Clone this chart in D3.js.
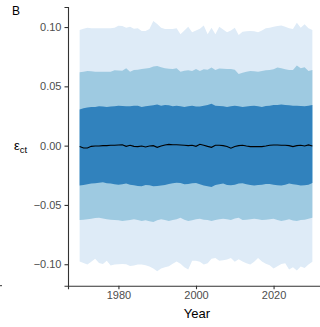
<!DOCTYPE html>
<html><head><meta charset="utf-8">
<script src="https://cdn.jsdelivr.net/npm/d3@7"></script>
<style>html,body{margin:0;padding:0;background:#fff;}svg{display:block;font-family:"Liberation Sans",Arial,sans-serif;}</style>
</head><body><svg id="c" width="320" height="327"></svg>
<script>
const years = [1970,1971,1972,1973,1974,1975,1976,1977,1978,1979,1980,1981,1982,1983,1984,1985,1986,1987,1988,1989,1990,1991,1992,1993,1994,1995,1996,1997,1998,1999,2000,2001,2002,2003,2004,2005,2006,2007,2008,2009,2010,2011,2012,2013,2014,2015,2016,2017,2018,2019,2020,2021,2022,2023,2024,2025,2026,2027,2028,2029,2030];
const upper95 = [0.0975,0.0985,0.0995,0.099,0.0989,0.0989,0.099,0.099,0.099,0.0995,0.101,0.1008,0.0995,0.1003,0.0985,0.099,0.0967,0.0967,0.0984,0.1051,0.1025,0.0995,0.0984,0.0984,0.0984,0.099,0.0939,0.097,0.1003,0.0956,0.097,0.0985,0.1012,0.0939,0.0995,0.0939,0.1003,0.098,0.0956,0.097,0.0995,0.0933,0.096,0.0965,0.0967,0.0965,0.0956,0.097,0.0989,0.0995,0.1003,0.1008,0.1012,0.1003,0.099,0.0984,0.1037,0.0995,0.1023,0.0989,0.0975];
const lower95 = [-0.0976,-0.0989,-0.1003,-0.098,-0.0953,-0.099,-0.0998,-0.097,-0.101,-0.1003,-0.1,-0.0998,-0.1,-0.1015,-0.101,-0.1003,-0.1003,-0.1009,-0.102,-0.1037,-0.1059,-0.1037,-0.1026,-0.1018,-0.0995,-0.0976,-0.0995,-0.1026,-0.1045,-0.097,-0.097,-0.098,-0.1003,-0.0992,-0.0953,-0.0947,-0.097,-0.0967,-0.0961,-0.0947,-0.098,-0.0958,-0.0976,-0.0992,-0.1003,-0.098,-0.0947,-0.0976,-0.0995,-0.1009,-0.1037,-0.1018,-0.0998,-0.0992,-0.1045,-0.1026,-0.1053,-0.102,-0.1031,-0.1003,-0.098];
const upper80 = [0.0618,0.0624,0.063,0.0627,0.0624,0.0624,0.0624,0.0624,0.0624,0.0635,0.0634,0.0632,0.0652,0.0624,0.0638,0.064,0.0647,0.065,0.0655,0.0668,0.0672,0.0662,0.0652,0.0649,0.0647,0.0652,0.0624,0.0632,0.0636,0.063,0.0647,0.063,0.0645,0.064,0.0658,0.0638,0.065,0.0648,0.0647,0.0647,0.064,0.0605,0.0615,0.0624,0.063,0.0627,0.0624,0.063,0.0635,0.0638,0.0645,0.0658,0.0652,0.0645,0.0638,0.0638,0.0675,0.0652,0.0662,0.063,0.0638];
const lower80 = [-0.0627,-0.0624,-0.062,-0.0616,-0.061,-0.0607,-0.0615,-0.0621,-0.0624,-0.0627,-0.063,-0.0635,-0.0632,-0.0627,-0.0621,-0.0627,-0.0635,-0.063,-0.0638,-0.0644,-0.063,-0.0621,-0.0627,-0.0635,-0.0627,-0.062,-0.0607,-0.0624,-0.0635,-0.063,-0.0621,-0.0616,-0.0624,-0.0627,-0.0635,-0.0627,-0.0621,-0.0616,-0.0621,-0.0627,-0.0615,-0.0607,-0.0627,-0.0624,-0.0621,-0.0616,-0.0621,-0.0627,-0.0624,-0.0621,-0.0616,-0.0627,-0.0635,-0.063,-0.0621,-0.0632,-0.0635,-0.0627,-0.0624,-0.0616,-0.0607];
const upper50 = [0.0304,0.0315,0.0321,0.0326,0.0326,0.0332,0.0329,0.0326,0.0329,0.0332,0.0337,0.0335,0.0332,0.0332,0.0337,0.0337,0.0326,0.0332,0.0337,0.034,0.0346,0.0337,0.0343,0.034,0.0332,0.0337,0.0332,0.0326,0.0332,0.0337,0.0329,0.0329,0.0337,0.0343,0.0354,0.0337,0.0335,0.0332,0.0326,0.0332,0.0337,0.0332,0.0326,0.0329,0.0335,0.0337,0.0332,0.0326,0.0335,0.0337,0.0343,0.0343,0.0346,0.0343,0.034,0.0337,0.0337,0.0335,0.0332,0.0337,0.0343];
const lower50 = [-0.0337,-0.0332,-0.0326,-0.032,-0.0318,-0.0312,-0.0309,-0.0318,-0.032,-0.0326,-0.0329,-0.0326,-0.032,-0.0329,-0.0335,-0.034,-0.0343,-0.0332,-0.0335,-0.0343,-0.034,-0.0337,-0.0332,-0.0323,-0.0318,-0.0312,-0.0315,-0.0326,-0.0323,-0.0318,-0.0315,-0.0326,-0.0337,-0.0343,-0.0348,-0.0332,-0.0326,-0.032,-0.0332,-0.0335,-0.0329,-0.032,-0.0318,-0.0326,-0.0332,-0.0337,-0.0332,-0.0329,-0.0323,-0.0323,-0.0329,-0.0335,-0.0337,-0.0329,-0.032,-0.0326,-0.0329,-0.0337,-0.0335,-0.0329,-0.0315];
const median = [-0.0008,-0.002,-0.002,-0.0006,-0.0003,-0.0003,0,0,0.0003,0.0003,0.0006,0.0008,-0.0006,0.0003,-0.0006,-0.0008,-0.0003,-0.0011,-0.0003,0,-0.0014,-0.0003,0.0006,0.0011,0.0008,0.0008,0.0006,0.0003,0,0.0003,-0.0006,0.0011,0.0003,-0.0006,-0.0014,0.0003,0.0003,0,-0.0008,-0.0022,-0.0008,0,0.0003,-0.0003,-0.0008,-0.0008,-0.0008,-0.0008,-0.0003,0.0003,0.0006,0.0006,0.0003,0.0003,0,-0.0008,0,0.0003,-0.0003,0.0006,-0.0003];
const yTicks = [-0.10,-0.05,0.00,0.05,0.10];
const xTicks = [1980,2000,2020];

const svg = d3.select("#c");
const x = d3.scaleLinear().domain([1967, 2033]).range([68, 324]);
const y = d3.scaleLinear().domain([-0.1181, 0.1169]).range([285.7, 7]);
const axisColor = "#333";

const bands = [
  {lo: lower95, hi: upper95, fill: "#DEEBF7"},
  {lo: lower80, hi: upper80, fill: "#9ECAE1"},
  {lo: lower50, hi: upper50, fill: "#3182BD"}
];
const area = (lo, hi) => d3.area()
  .x((d, i) => x(years[i]))
  .y0((d, i) => y(lo[i]))
  .y1((d, i) => y(hi[i]));
bands.forEach(b => {
  svg.append("path").datum(years).attr("d", area(b.lo, b.hi)).attr("fill", b.fill);
});
svg.append("path").datum(median)
  .attr("d", d3.line().x((d, i) => x(years[i])).y(d => y(d)))
  .attr("fill", "none").attr("stroke", "#000").attr("stroke-width", 1.1);

// axes
const fmt = d => d3.format(".2f")(d).replace("-", "\u2212");
const gy = svg.append("g").attr("transform", "translate(68,0)")
  .call(d3.axisLeft(y).tickValues(yTicks).tickFormat(fmt).tickSize(3.5).tickPadding(3));
const gx = svg.append("g").attr("transform", "translate(0,285.7)")
  .call(d3.axisBottom(x).tickValues(xTicks).tickFormat(d3.format("d")).tickSize(3.5).tickPadding(2));
[gy, gx].forEach(g => {
  g.select(".domain").attr("stroke", axisColor).attr("stroke-width", 1.1);
  g.selectAll(".tick line").attr("stroke", axisColor).attr("stroke-width", 1.1);
  g.selectAll(".tick text").attr("fill", "#4D4D4D").style("font-size", "11px")
   .style("font-family", "'Liberation Sans', Arial, sans-serif");
});

// axis titles
const yl = svg.append("text").attr("x", 14).attr("y", 150).attr("fill", "#000")
  .style("font-size", "13px");
yl.append("tspan").text("\u03B5");
yl.append("tspan").attr("dy", 3).style("font-size", "9.5px").text("ct");
svg.append("text").attr("x", x(2000) + 1).attr("y", 318).attr("text-anchor", "middle")
  .attr("fill", "#000").style("font-size", "13px").text("Year");

// panel tag
svg.append("text").attr("x", 12).attr("y", 15).attr("fill", "#000")
  .style("font-size", "12px").text("B");

// fragment of neighbouring panel's axis
svg.append("line").attr("x1", 0).attr("x2", 2).attr("y1", 285.7).attr("y2", 285.7)
  .attr("stroke", axisColor).attr("stroke-width", 1);
</script></body></html>
